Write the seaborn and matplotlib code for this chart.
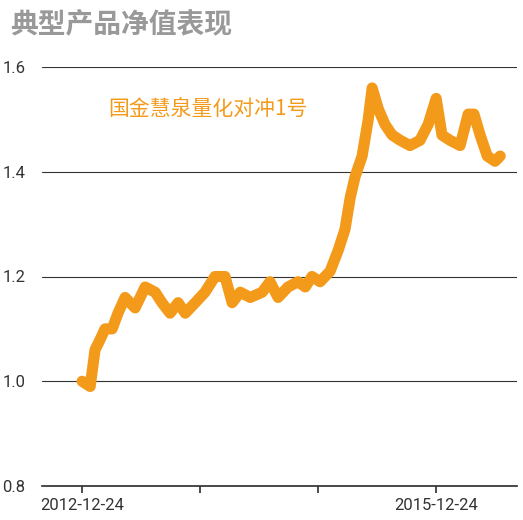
import matplotlib
matplotlib.use("Agg")
import matplotlib.pyplot as plt
import seaborn as sns
import pandas as pd
import numpy as np

start = pd.Timestamp("2012-12-24")
day_offsets = [0,25,40,56,71,93,111,133,164,195,226,247,272,297,319,350,380,411,442,464,489,520,557,581,606,637,668,690,711,736,767,792,813,829,844,866,885,897,916,937,959,984,1014,1045,1070,1095,1113,1138,1169,1194,1212,1231,1253,1277,1293]
nav = [1.00,0.99,1.06,1.08,1.10,1.10,1.13,1.16,1.14,1.18,1.17,1.15,1.13,1.15,1.13,1.15,1.17,1.20,1.20,1.15,1.17,1.16,1.17,1.19,1.16,1.18,1.19,1.18,1.20,1.19,1.21,1.25,1.29,1.35,1.39,1.43,1.50,1.56,1.52,1.49,1.47,1.46,1.45,1.46,1.49,1.54,1.47,1.46,1.45,1.51,1.51,1.47,1.43,1.42,1.43]
tick_dates = ["2012-12-24","2013-12-24","2014-12-24","2015-12-24"]
tick_labels = ["2012-12-24","","","2015-12-24"]
yticks = [0.8,1.0,1.2,1.4,1.6]

df = pd.DataFrame({"date": start + pd.to_timedelta(day_offsets, unit="D"), "nav": nav})

sns.set_theme(style="white")
plt.rcParams['font.family'] = ['Noto Sans CJK SC', 'DejaVu Sans']
fig = plt.figure(figsize=(5.23, 5.20), dpi=100)
ax = fig.add_axes([42/523, 1-486/520, 475/523, (486-67)/520])
orange = "#F39A1A"
sns.lineplot(data=df, x="date", y="nav", ax=ax, color=orange, linewidth=8,
             solid_joinstyle="round", solid_capstyle="round")
ax.set_xlim(start - pd.Timedelta(days=124), start + pd.Timedelta(days=1345))
ax.set_ylim(0.8, 1.6)
ax.set_yticks(yticks)
cond = ['DejaVu Sans Condensed', 'Roboto', 'DejaVu Sans']
ax.set_yticklabels([f"{v:.1f}" for v in yticks], fontsize=12, color="#333333", family=cond)
ax.set_xticks(pd.to_datetime(tick_dates))
ax.set_xticklabels(tick_labels, fontsize=12, color="#333333", family=cond)
ax.tick_params(axis="x", length=5, direction="out", color="#333333", bottom=True)
ax.tick_params(axis="y", length=0, pad=12)
ax.grid(axis="y", color="#333333", linewidth=0.8)
ax.set_axisbelow(True)
for s in ["top","right","left"]:
    ax.spines[s].set_visible(False)
ax.spines["bottom"].set_color("#333333")
ax.set_xlabel("")
ax.set_ylabel("")
ax.text(0.14, 0.9, "国金慧泉量化对冲1号", transform=ax.transAxes, color=orange, fontsize=15, va="center")
fig.text(10/523, 1-24/520, "典型产品净值表现", fontsize=20, fontweight="bold", color="#999999", va="center")
fig.savefig("out.png", dpi=100)
